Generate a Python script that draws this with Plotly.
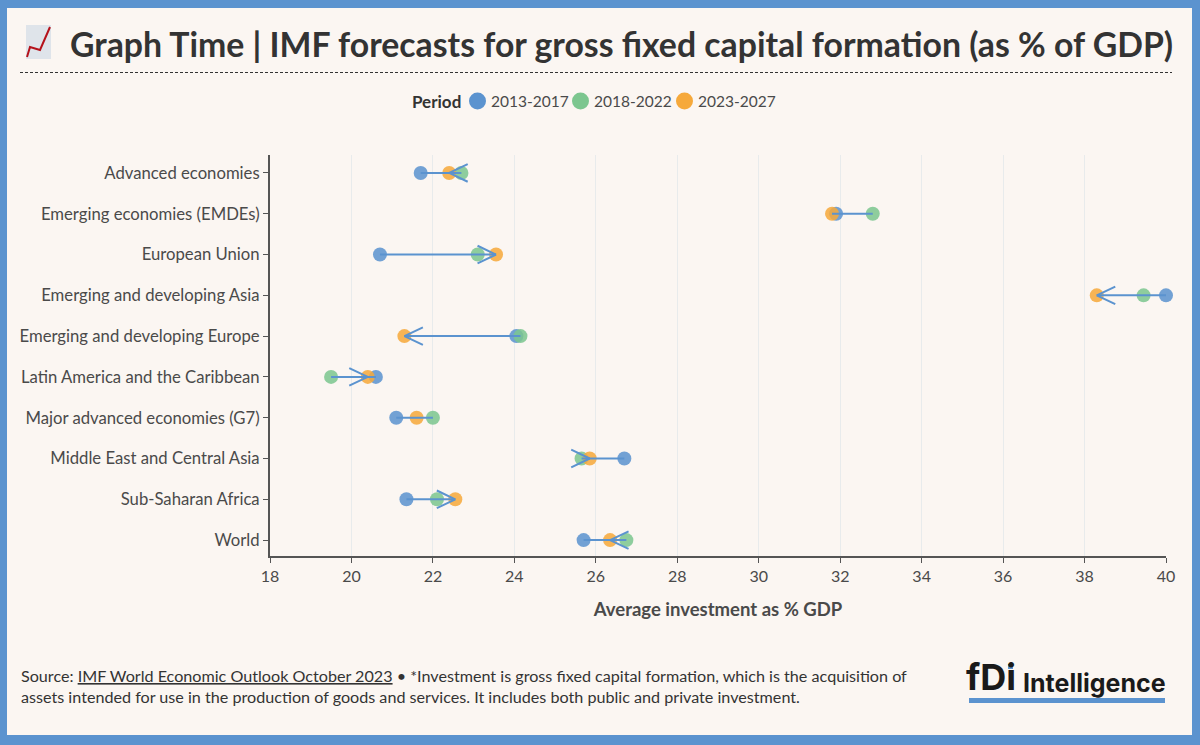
import plotly.graph_objects as go

W = 1200
H = 745

categories = ["Advanced economies", "Emerging economies (EMDEs)", "European Union",
              "Emerging and developing Asia", "Emerging and developing Europe",
              "Latin America and the Caribbean", "Major advanced economies (G7)",
              "Middle East and Central Asia", "Sub-Saharan Africa", "World"]
period_names = ["2013-2017", "2018-2022", "2023-2027"]
values_2013 = [21.7, 31.9, 20.7, 40.0, 24.05, 20.6, 21.1, 26.7, 21.35, 25.7]
values_2018 = [22.7, 32.8, 23.1, 39.45, 24.15, 19.5, 22.0, 25.65, 22.1, 26.75]
values_2023 = [22.4, 31.8, 23.55, 38.3, 21.3, 20.4, 21.6, 25.85, 22.55, 26.35]
no_arrow = ["Emerging economies (EMDEs)", "Major advanced economies (G7)"]
x_ticks = list(range(18, 41, 2))

BLUE = "#5b93cf"
GREEN = "#7cc68f"
ORANGE = "#f6a93b"
PANEL = "#fbf6f2"
TEXT = "#4a4a4a"
DARK = "#333333"
FONT = "Lato"


def px(x):
    return x / W


def py(y):
    return 1 - y / H


fig = go.Figure()

# connecting line sits on top of the dots, as in the original
series = [values_2013, values_2018, values_2023]
colors = [BLUE, GREEN, ORANGE]
for name, vals, col in zip(period_names, series, colors):
    fig.add_trace(go.Scatter(x=vals, y=categories, mode="markers", name=name, showlegend=False, cliponaxis=False,
                             marker=dict(size=14, color=col, opacity=0.86), hoverinfo="x+y"))

line_x = []
line_y = []
for i, cat in enumerate(categories):
    row = [values_2013[i], values_2018[i], values_2023[i]]
    line_x += [min(row), max(row), None]
    line_y += [cat, cat, None]
fig.add_trace(go.Scatter(x=line_x, y=line_y, mode="lines", showlegend=False, hoverinfo="skip",
                         cliponaxis=False, line=dict(color=BLUE, width=2)))

annotations = []
# open arrow heads, tip on the 2023-2027 value
for i, cat in enumerate(categories):
    if cat in no_arrow:
        continue
    side = 1 if values_2023[i] < values_2018[i] else -1
    for arm in (-9.5, 9.5):
        annotations.append(dict(x=values_2023[i], y=cat, xref="x", yref="y", text="",
                                showarrow=True, arrowhead=0, arrowwidth=2, arrowcolor=BLUE,
                                ax=side * 20, ay=arm, standoff=0))

annotations += [
    dict(x=px(68), y=py(44), xref="paper", yref="paper", xanchor="left", yanchor="middle", showarrow=False,
         text="<b>Graph Time | IMF forecasts for gross fixed capital formation (as % of GDP)</b>",
         font=dict(family=FONT, size=33.8, color=DARK)),
    dict(x=px(410), y=py(101), xref="paper", yref="paper", xanchor="left", yanchor="middle", showarrow=False,
         text="<b>Period</b>", font=dict(family=FONT, size=17, color=DARK)),
    dict(x=px(19), y=py(686), xref="paper", yref="paper", xanchor="left", yanchor="middle", align="left",
         showarrow=False,
         text="Source: <span style=\"text-decoration:underline\">IMF World Economic Outlook October 2023</span>"
              " • *Investment is gross fixed capital formation, which is the acquisition of<br>"
              "assets intended for use in the production of goods and services. It includes both public and private investment.",
         font=dict(family=FONT, size=16.15, color=DARK)),
    dict(x=px(964), y=py(677), xref="paper", yref="paper", xanchor="left", yanchor="middle", showarrow=False,
         text="<b>fDi</b>", font=dict(family="Inter", size=36, color="#1a1a1a")),
    dict(x=px(1021), y=py(683), xref="paper", yref="paper", xanchor="left", yanchor="middle", showarrow=False,
         text="<b>Intelligence</b>", font=dict(family="Inter", size=25, color="#1a1a1a")),
]

shapes = [
    dict(type="rect", xref="paper", yref="paper", x0=px(7), x1=px(1192), y0=py(735), y1=py(8),
         fillcolor=PANEL, line=dict(width=0), layer="below"),
    dict(type="line", xref="paper", yref="paper", x0=px(20), x1=px(1172), y0=py(72.5), y1=py(72.5),
         line=dict(color=DARK, width=1, dash="3px,2px")),
    dict(type="rect", xref="paper", yref="paper", x0=px(969), x1=px(1165), y0=py(703), y1=py(698),
         fillcolor=BLUE, line=dict(width=0)),
    dict(type="rect", xref="paper", yref="paper", x0=px(1008), x1=px(1013), y0=py(669), y1=py(664),
         fillcolor=BLUE, line=dict(width=0)),
    # chart emoji
    dict(type="rect", xref="paper", yref="paper", x0=px(26), x1=px(51), y0=py(59), y1=py(25),
         fillcolor="#dfe4ea", line=dict(width=0)),
    dict(type="path", xref="paper", yref="paper",
         path=f"M {px(27)} {py(57)} L {px(30)} {py(47)} L {px(40)} {py(50)} L {px(50)} {py(27)}",
         line=dict(color="#b5121b", width=2)),
]

# plotly's legend can't get this tight, so the key is laid out by hand
for name, col, dot_x in zip(period_names, colors, [477.5, 580.5, 684.5]):
    shapes.append(dict(type="circle", xref="paper", yref="paper", x0=px(dot_x - 8.5), x1=px(dot_x + 8.5),
                       y0=py(109.5), y1=py(92.5), fillcolor=col, line=dict(width=0)))
    annotations.append(dict(x=px(dot_x + 11), y=py(101), xref="paper", yref="paper", xanchor="left",
                            yanchor="middle", showarrow=False, text=name,
                            font=dict(family=FONT, size=15.5, color=TEXT)))

fig.update_layout(
    width=W, height=H,
    margin=dict(l=0, r=0, t=0, b=0),
    paper_bgcolor=BLUE,
    plot_bgcolor=PANEL,
    font=dict(family=FONT, size=16, color=TEXT),
    hovermode="closest",
    showlegend=False,
    shapes=shapes,
    annotations=annotations,
    xaxis=dict(domain=[px(270), px(1166)], range=[18, 40], tickvals=x_ticks, showgrid=True,
               automargin=False,
               gridcolor="#e8ebec", gridwidth=1, zeroline=False, showline=True, linecolor="#555555",
               linewidth=2, ticks="outside", ticklen=5, tickcolor="#555555",
               tickfont=dict(size=16, color=TEXT),
               title=dict(text="<b>Average investment as % GDP</b>", standoff=19,
                          font=dict(family=FONT, size=18.5, color=TEXT))),
    yaxis=dict(domain=[py(556), py(155)], type="category", categoryorder="array", categoryarray=categories,
               automargin=False,
               range=[9.39, -0.44], showgrid=False, zeroline=False, showline=True, linecolor="#555555",
               linewidth=2, ticks="outside", ticklen=5, tickcolor="#555555",
               tickfont=dict(size=16.7, color=TEXT)),
)

fig.write_html("out.html", config={"displayModeBar": False},
               post_script="document.body.style.margin='0';")
